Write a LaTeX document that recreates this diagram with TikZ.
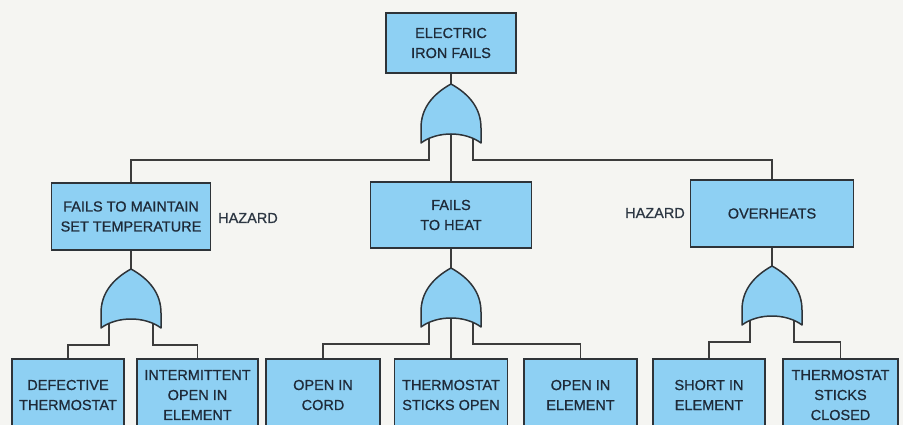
\documentclass[tikz,border=0pt]{standalone}
\usepackage{fontspec}
\setmainfont{Liberation Sans}
\newfontfamily\treefont[UprightFeatures={FakeBold=0.8}]{Liberation Sans}
\definecolor{paper}{RGB}{245,245,242}
\definecolor{boxfill}{RGB}{142,208,243}
\definecolor{boxline}{RGB}{46,51,56}
\definecolor{boxtext}{RGB}{30,42,56}
\definecolor{lineclr}{RGB}{60,60,60}

\begin{document}
\begin{tikzpicture}[
      x=1pt, y=-1pt,
      mybox/.style={
         rectangle,
         draw=boxline,
         line width=1.5pt,
         fill=boxfill,
         text=boxtext,
         inner sep=0pt,
         align=center,
         font=\treefont\fontsize{14.5}{20}\selectfont},
      mytext/.style={
         rectangle,
         inner sep=0pt,
         text=boxtext!85!gray,
         font=\treefont\fontsize{14.5}{20}\selectfont},
      myline/.style={draw=lineclr, line width=1.4pt},
      mygate/.style={draw=boxline, line width=1.5pt, fill=boxfill, line join=round}
      ]
      \fill[paper] (0,0) rectangle (903,425);
      \useasboundingbox (0,0) rectangle (903,425);
      \clip (0,0) rectangle (903,425);
      % top event
      \node[mybox, minimum width=130pt, minimum height=60pt] (c1) at (451,43) {ELECTRIC\\IRON FAILS};
      % second level
      \node[mybox, minimum width=159pt, minimum height=67pt] (c2) at (131,216.5) {FAILS TO MAINTAIN\\SET TEMPERATURE};
      \node[mybox, minimum width=161pt, minimum height=66pt] (c3) at (451,215) {FAILS\\TO HEAT};
      \node[mybox, minimum width=163pt, minimum height=67pt] (c4) at (772,213.5) {OVERHEATS};
      \node[mytext] (c21) at (248,218) {HAZARD};
      \node[mytext] (c22) at (655,213) {HAZARD};
      % basic events
      \node[mybox, minimum width=112pt, minimum height=72pt] (c5) at (68,395) {DEFECTIVE\\THERMOSTAT};
      \node[mybox, minimum width=121pt, minimum height=72pt] (c6) at (197.5,395) {INTERMITTENT\\OPEN IN\\ELEMENT};
      \node[mybox, minimum width=114pt, minimum height=72pt] (c7) at (323,395) {OPEN IN\\CORD};
      \node[mybox, minimum width=113pt, minimum height=72pt] (c8) at (451,395) {THERMOSTAT\\STICKS OPEN};
      \node[mybox, minimum width=113pt, minimum height=72pt] (c9) at (580.5,395) {OPEN IN\\ELEMENT};
      \node[mybox, minimum width=112pt, minimum height=72pt] (c10) at (709,395) {SHORT IN\\ELEMENT};
      \node[mybox, minimum width=115pt, minimum height=72pt] (c11) at (840.5,395) {THERMOSTAT\\STICKS\\CLOSED};
      % gate tips and legs
      \foreach \g/\x/\y in {g0/451/84, g1/131/269, g2/451/268, g3/772/266} {
         \coordinate (\g) at (\x,\y);
         \coordinate (\g-l) at (\x-22,\y+50);
         \coordinate (\g-m) at (\x,\y+50);
         \coordinate (\g-r) at (\x+22,\y+50);
      }
      \foreach \i/\j in {c1/g0, c2/g1, c3/g2, c4/g3}
         \draw[myline] (\i) -- (\j);
      \foreach \i/\j in {% gate leg/event below
         g0-l/c2, g0-m/c3, g0-r/c4,
         g1-l/c5, g1-r/c6,
         g2-l/c7, g2-m/c8, g2-r/c9,
         g3-l/c10, g3-r/c11}
         \draw[myline] (\i) -- ++(0,26) -| (\j.north);
      % or gates
      \foreach \g in {g0, g1, g2, g3}
         \draw[mygate, shift={(\g)}] (0,0) .. controls (-18,10) and (-30,24) .. (-30,44)
            -- (-30,59) .. controls (-14,47) and (14,47) .. (30,59)
            -- (30,44) .. controls (30,24) and (18,10) .. cycle;
\end{tikzpicture}
\end{document}
